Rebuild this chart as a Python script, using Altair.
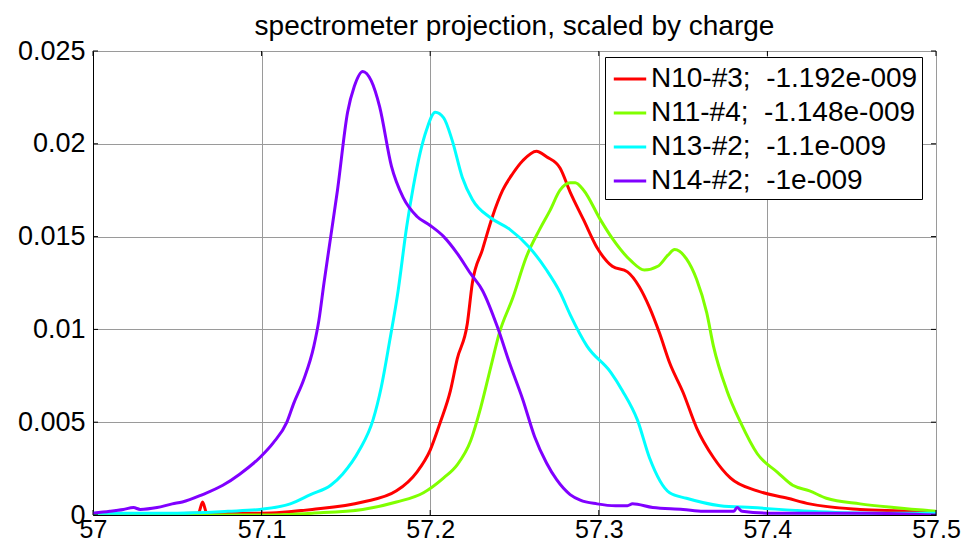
import altair as alt
import pandas as pd

FONT = "Liberation Sans"

series_names = [
    "N10-#3;\u00a0 -1.192e-009",
    "N11-#4;\u00a0 -1.148e-009",
    "N13-#2;\u00a0 -1.1e-009",
    "N14-#2;\u00a0 -1e-009",
]
series_colors = ["#ff0000", "#80ff00", "#00ffff", "#8000ff"]

# N10-#3 (red)
n10_x = [57.000, 57.030, 57.060, 57.0625, 57.065, 57.0675, 57.070, 57.100, 57.130, 57.160,
         57.180, 57.192, 57.200, 57.206, 57.212, 57.216, 57.222, 57.225, 57.231, 57.237,
         57.243, 57.249, 57.255, 57.263, 57.269, 57.277, 57.283, 57.291, 57.299, 57.308,
         57.317, 57.324, 57.330, 57.336, 57.342, 57.350, 57.358, 57.368, 57.378, 57.394,
         57.412, 57.425, 57.455, 57.485, 57.500]
n10_y = [0.0000, 0.0000, 0.0001, 0.0001, 0.0007, 0.0001, 0.0001, 0.0001, 0.0003, 0.0007,
         0.0013, 0.0023, 0.0035, 0.0050, 0.0067, 0.0084, 0.0103, 0.0125, 0.0143, 0.0161,
         0.0175, 0.0184, 0.0191, 0.0196, 0.0193, 0.0187, 0.0174, 0.0159, 0.0144, 0.0134,
         0.0131, 0.0123, 0.0112, 0.0098, 0.0082, 0.0066, 0.0047, 0.0031, 0.0020, 0.0013,
         0.0009, 0.0006, 0.0003, 0.0002, 0.0001]

# N11-#4 (green)
n11_x = [57.000, 57.050, 57.100, 57.130, 57.160, 57.180, 57.196, 57.208, 57.216, 57.224,
         57.230, 57.236, 57.241, 57.249, 57.257, 57.265, 57.271, 57.277, 57.283, 57.286,
         57.291, 57.301, 57.308, 57.319, 57.327, 57.335, 57.341, 57.345, 57.352, 57.358,
         57.364, 57.368, 57.376, 57.384, 57.394, 57.406, 57.415, 57.425, 57.435, 57.455,
         57.475, 57.500]
n11_y = [0.0000, 0.0000, 0.0000, 0.0001, 0.0003, 0.0007, 0.0012, 0.0020, 0.0027, 0.0040,
         0.0058, 0.0080, 0.0098, 0.0117, 0.0139, 0.0154, 0.0164, 0.0175, 0.0179, 0.0179,
         0.0175, 0.0159, 0.0149, 0.0137, 0.0132, 0.0134, 0.0140, 0.0143, 0.0138, 0.0127,
         0.0109, 0.0091, 0.0067, 0.0050, 0.0033, 0.0023, 0.0016, 0.0013, 0.0009, 0.0006,
         0.0004, 0.0002]

# N13-#2 (cyan)
n13_x = [57.000, 57.020, 57.050, 57.080, 57.099, 57.117, 57.129, 57.141, 57.148, 57.158,
         57.166, 57.171, 57.176, 57.181, 57.186, 57.190, 57.194, 57.198, 57.203, 57.208,
         57.213, 57.219, 57.225, 57.236, 57.247, 57.259, 57.269, 57.277, 57.283, 57.293,
         57.307, 57.314, 57.323, 57.330, 57.342, 57.352, 57.372, 57.391, 57.425, 57.460,
         57.500]
n13_y = [0.0001, 0.0001, 0.0001, 0.0002, 0.0003, 0.0006, 0.0011, 0.0016, 0.0022, 0.0035,
         0.0051, 0.0069, 0.0094, 0.0121, 0.0155, 0.0177, 0.0195, 0.0208, 0.0217, 0.0214,
         0.0202, 0.0182, 0.0170, 0.0160, 0.0154, 0.0144, 0.0132, 0.0120, 0.0108, 0.0091,
         0.0077, 0.0067, 0.0051, 0.0031, 0.0012, 0.0009, 0.0005, 0.0004, 0.0002, 0.0001,
         0.0001]

# N14-#2 (purple)
n14_x = [57.000, 57.010, 57.018, 57.024, 57.028, 57.038, 57.047, 57.053, 57.065, 57.077,
         57.087, 57.099, 57.107, 57.115, 57.119, 57.125, 57.131, 57.134, 57.137, 57.141,
         57.145, 57.151, 57.155, 57.160, 57.165, 57.170, 57.177, 57.184, 57.192, 57.200,
         57.208, 57.216, 57.224, 57.231, 57.240, 57.247, 57.255, 57.262, 57.269, 57.275,
         57.283, 57.289, 57.299, 57.310, 57.317, 57.320, 57.332, 57.350, 57.362, 57.380,
         57.382, 57.385, 57.400, 57.430, 57.460, 57.500]
n14_y = [0.0001, 0.0002, 0.0003, 0.0004, 0.0003, 0.0004, 0.0006, 0.0007, 0.0011, 0.0016,
         0.0022, 0.0031, 0.0039, 0.0050, 0.0060, 0.0073, 0.0091, 0.0105, 0.0125, 0.0150,
         0.0175, 0.0217, 0.0231, 0.0239, 0.0234, 0.0220, 0.0188, 0.0171, 0.0161, 0.0156,
         0.0150, 0.0141, 0.0130, 0.0121, 0.0101, 0.0082, 0.0062, 0.0042, 0.0028, 0.0019,
         0.0011, 0.0008, 0.0006, 0.0005, 0.0005, 0.0006, 0.0004, 0.0003, 0.0002, 0.0002,
         0.0004, 0.0002, 0.0001, 0.0001, 0.0001, 0.0000]

x_ticks = [57, 57.1, 57.2, 57.3, 57.4, 57.5]
y_ticks = [0, 0.005, 0.01, 0.015, 0.02, 0.025]

rows = []
for name, xs, ys in zip(series_names, [n10_x, n11_x, n13_x, n14_x], [n10_y, n11_y, n13_y, n14_y]):
    for xv, yv in zip(xs, ys):
        rows.append({"x": xv, "y": yv, "series": name})
df = pd.DataFrame(rows)

W, H = 843, 464
xscale = alt.Scale(domain=[57, 57.5], nice=False, zero=False)
yscale = alt.Scale(domain=[0, 0.025], nice=False, zero=False)

x_axis = alt.Axis(
    values=x_ticks, format="~g", title=None, grid=True, ticks=False, labelFlush=False,
    labelFontSize=25, labelPadding=2, labelFont=FONT, labelColor="black",
    domainColor="black", gridColor="#9a9a9a", gridWidth=1)
y_axis = alt.Axis(
    values=y_ticks, format="~g", title=None, grid=True, ticks=False, labelFlush=False,
    labelFontSize=27, labelPadding=8, labelFont=FONT, labelColor="black",
    domainColor="black", gridColor="#9a9a9a", gridWidth=1)

lines = alt.Chart(df).mark_line(strokeWidth=3, clip=True, interpolate="monotone").encode(
    x=alt.X("x:Q", scale=xscale, axis=x_axis),
    y=alt.Y("y:Q", scale=yscale, axis=y_axis),
    color=alt.Color("series:N", scale=alt.Scale(domain=series_names, range=series_colors),
                    sort=series_names,
                    legend=alt.Legend(
                        title=None, orient="none", legendX=512, legendY=6,
                        labelFontSize=28, labelFont=FONT, labelColor="black", labelLimit=500,
                        symbolType="stroke", symbolSize=1050, symbolStrokeWidth=3,
                        padding=4, rowPadding=2, labelOffset=3, symbolOffset=3,
                        strokeColor="black", fillColor="white", cornerRadius=0)),
)

xt = pd.DataFrame({"x": x_ticks})
yt = pd.DataFrame({"y": y_ticks})
tick_bottom = alt.Chart(xt).mark_rule(color="black").encode(
    x=alt.X("x:Q", scale=xscale, axis=x_axis), y=alt.value(H), y2=alt.value(H - 5))
tick_top = alt.Chart(xt).mark_rule(color="black").encode(
    x=alt.X("x:Q", scale=xscale, axis=x_axis), y=alt.value(0), y2=alt.value(5))
tick_left = alt.Chart(yt).mark_rule(color="black").encode(
    y=alt.Y("y:Q", scale=yscale, axis=y_axis), x=alt.value(0), x2=alt.value(5))
tick_right = alt.Chart(yt).mark_rule(color="black").encode(
    y=alt.Y("y:Q", scale=yscale, axis=y_axis), x=alt.value(W - 5), x2=alt.value(W))

chart = alt.layer(lines, tick_bottom, tick_top, tick_left, tick_right).properties(
    width=W, height=H,
    title=alt.TitleParams("spectrometer projection, scaled by charge", fontSize=28, font=FONT,
                          fontWeight="normal", color="black", offset=-4, anchor="middle"),
    autosize=alt.AutoSizeParams(type="none"),
    padding={"left": 85, "top": 43, "right": 26, "bottom": 27},
).configure_view(stroke="black", strokeWidth=1).configure(background="white")

chart.save("out.html", embed_options={"renderer": "svg", "actions": False})
